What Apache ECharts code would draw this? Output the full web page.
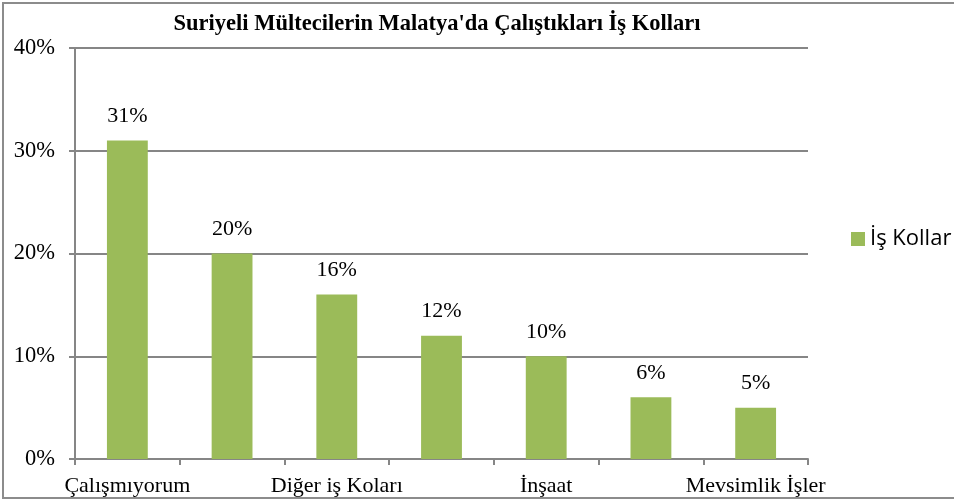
<!DOCTYPE html>
<html><head><meta charset="utf-8">
<script src="https://cdn.jsdelivr.net/npm/echarts@6/dist/echarts.min.js"></script>
<style>html,body{margin:0;padding:0;background:#fff}#c{width:954px;height:500px}</style>
</head><body><div id="c"></div>
<script>
const titleText = "Suriyeli Mültecilerin Malatya'da Çalıştıkları İş Kolları";
const categories = ["Çalışmıyorum", "Tarım", "Diğer iş Koları", "Tekstil", "İnşaat", "Ev İşleri", "Mevsimlik İşler"];
const seriesName = "İş Kollar";
const values = [31, 20, 16, 12, 10, 6, 5];
const yTicks = [0, 10, 20, 30, 40];

const chart = echarts.init(document.getElementById('c'));
const serif = "'Liberation Serif', 'Times New Roman', serif";
chart.setOption({
  animation: false,
  title: { text: titleText, left: 432, top: 8, textAlign: 'center',
    textStyle: { fontFamily: serif, fontWeight: 'bold', fontSize: 22.5, color: '#000' } },
  graphic: [{ type: 'rect', shape: { x: 3, y: 3, width: 980, height: 495 }, style: { fill: 'none', stroke: '#8c8c8c', lineWidth: 2 }, silent: true }],
  legend: { show: true, left: 846, top: 223, orient: 'vertical', itemWidth: 14, itemHeight: 14, itemGap: 8,
    textStyle: { fontFamily: "'Open Sans', 'DejaVu Sans', sans-serif", fontSize: 22, color: '#000' },
    data: [{ name: seriesName, icon: 'rect' }] },
  grid: { left: 75, right: 146, top: 48, bottom: 41, containLabel: false },
  xAxis: { type: 'category', data: categories,
    axisLine: { lineStyle: { color: '#868686', width: 2 } },
    axisTick: { show: true, interval: 0, length: 6, lineStyle: { color: '#868686', width: 2 } },
    axisLabel: { interval: 1, margin: 16, fontFamily: serif, fontSize: 22, color: '#000' } },
  yAxis: { type: 'value', min: yTicks[0], max: yTicks[yTicks.length - 1], interval: 10,
    axisLine: { show: true, lineStyle: { color: '#868686', width: 2 } },
    axisTick: { show: true, length: 6, lineStyle: { color: '#868686', width: 2 } },
    splitLine: { lineStyle: { color: '#868686', width: 2 } },
    axisLabel: { margin: 20, fontFamily: serif, fontSize: 22.5, color: '#000', formatter: v => v + '%' } },
  series: [{ name: seriesName, type: 'bar', data: values, barWidth: '39%',
    itemStyle: { color: '#9BBB59' },
    label: { show: true, position: 'top', distance: 13, fontFamily: serif, fontSize: 22, color: '#000', formatter: p => p.value + '%' } }]
});
</script></body></html>
